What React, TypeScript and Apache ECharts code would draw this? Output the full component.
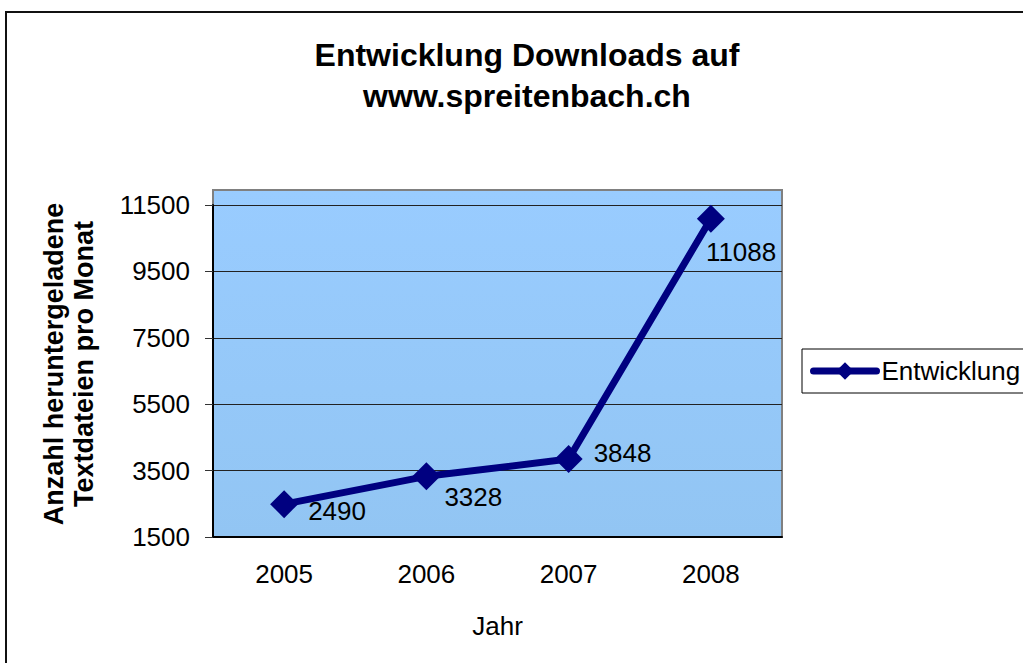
import React, { useEffect, useRef } from "react";
import * as echarts from "echarts";

const titleLines = ["Entwicklung Downloads auf", "www.spreitenbach.ch"];
const yTitleLines = ["Anzahl heruntergeladene", "Textdateien pro Monat"];
const xTitle = "Jahr";
const seriesName = "Entwicklung";
const years = ["2005", "2006", "2007", "2008"];
const downloads = [2490, 3328, 3848, 11088];
const labelOffsets: [number, number][] = [[5, 7], [-1, 21], [6, -6], [-24, 33]];

const FONT = "'Liberation Sans', Arial, sans-serif";

export default function App() {
  const ref = useRef<HTMLDivElement>(null);
  useEffect(() => {
    if (!ref.current) return;
    const chart = echarts.init(ref.current, undefined, { renderer: "svg" });
    const gridLeft = 213, gridRight = 241, gridTop = 205, gridBottom = 126;
    const plotW = 1023 - gridLeft - gridRight;
    chart.setOption({
      animation: false,
      backgroundColor: "#ffffff",
      textStyle: { fontFamily: FONT },
      title: {
        text: titleLines.join("\n"),
        left: 527,
        top: 34,
        padding: 0,
        textAlign: "center",
        textStyle: { fontFamily: FONT, fontSize: 32, fontWeight: "bold", color: "#000", lineHeight: 41 },
      },
      legend: {
        left: 802,
        top: 349,
        padding: [9, 30, 9, 8],
        borderColor: "#000",
        borderWidth: 1,
        itemWidth: 63,
        itemHeight: 22,
        lineStyle: { width: 7, color: "#000080", cap: "round" },
        textStyle: { fontFamily: FONT, fontSize: 26, color: "#000", lineHeight: 26 },
        data: [seriesName],
      },
      graphic: [
        {
          type: "rect",
          z: -10,
          shape: { x: 6, y: 12, width: 1200, height: 800 },
          style: { fill: "none", stroke: "#111", lineWidth: 2 },
        },
        {
          type: "rect",
          z: -5,
          shape: { x: gridLeft, y: 190, width: plotW, height: 537 - 190 },
          style: {
            fill: new echarts.graphic.LinearGradient(0, 0, 0, 1, [
              { offset: 0, color: "#99CCFF" },
              { offset: 1, color: "#92C5F3" },
            ]),
            stroke: "#808080",
            lineWidth: 2,
          },
        },
        {
          type: "text",
          x: 69,
          y: 364,
          rotation: Math.PI / 2,
          style: {
            text: yTitleLines.join("\n"),
            font: `bold 27px ${FONT}`,
            fill: "#000",
            align: "center",
            verticalAlign: "middle",
            lineHeight: 30,
          },
        },
      ],
      grid: { left: gridLeft, right: gridRight, top: gridTop, bottom: gridBottom },
      xAxis: {
        type: "category",
        data: years,
        boundaryGap: true,
        name: xTitle,
        nameLocation: "middle",
        nameGap: 76,
        nameTextStyle: { fontFamily: FONT, fontSize: 26, color: "#000" },
        axisLine: { lineStyle: { color: "#000", width: 2 } },
        axisTick: { length: 8, lineStyle: { color: "#333", width: 1 } },
        axisLabel: { margin: 24, fontFamily: FONT, fontSize: 26, color: "#000" },
      },
      yAxis: {
        type: "value",
        min: 1500,
        max: 11500,
        interval: 2000,
        axisLine: { show: true, lineStyle: { color: "#000", width: 2 } },
        axisTick: { show: true, length: 8, lineStyle: { color: "#333", width: 1 } },
        axisLabel: {
          margin: 23,
          fontFamily: FONT,
          fontSize: 26,
          color: "#000",
          formatter: (v: number) => String(v),
        },
        splitLine: { show: true, lineStyle: { color: "#222", width: 1 } },
      },
      series: [
        {
          name: seriesName,
          type: "line",
          data: downloads.map((v, i) => ({
            value: v,
            label: { offset: labelOffsets[i] },
          })),
          color: "#000080",
          lineStyle: { color: "#000080", width: 7 },
          itemStyle: { color: "#000080" },
          symbol: "diamond",
          symbolSize: 28,
          label: {
            show: true,
            position: "right",
            fontFamily: FONT,
            fontSize: 26,
            color: "#000",
          },
        },
      ],
    });
    return () => chart.dispose();
  }, []);
  return (
    <div
      ref={ref}
      style={{ position: "fixed", left: 0, top: 0, width: 1023, height: 663 }}
    />
  );
}
